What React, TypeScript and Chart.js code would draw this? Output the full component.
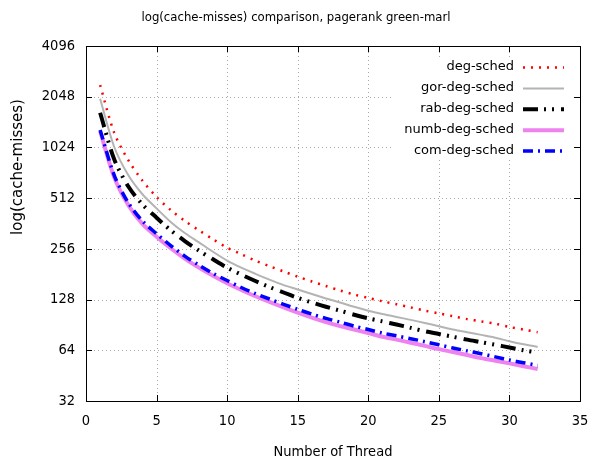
import { useEffect, useRef } from "react";
import { Chart, registerables } from "chart.js";
Chart.register(...registerables);

const threads = [1, 2, 3, 4, 5, 6, 7, 8, 9, 10, 11, 12, 13, 14, 15, 16, 17, 18, 19, 20, 21, 22, 23, 24, 25, 26, 27, 28, 29, 30, 31, 32];
const degSched = [2400, 1250, 860, 650, 520, 435, 375, 330, 292, 260, 238, 218, 202, 188, 175, 164, 154, 145, 137, 131, 125, 120, 115, 110, 106, 102, 98, 95, 92, 88, 85, 82];
const gorDegSched = [1990, 1030, 700, 540, 445, 370, 318, 280, 246, 218, 198, 182, 168, 156, 147, 138, 130, 123, 116, 110, 105, 101, 97, 93, 89, 85, 82, 79, 76, 72.5, 69.5, 67];
const rabDegSched = [1645, 870, 600, 470, 392, 330, 285, 250, 222, 198, 180, 165, 152, 141, 131, 123, 116, 110, 104, 99, 95, 91, 87, 83, 80, 77, 74, 71.5, 69, 66.5, 64, 62];
const numbDegSched = [1280, 680, 465, 360, 302, 258, 224, 198, 177, 160, 146, 134, 124, 115, 107, 100, 94, 89, 85, 81, 77, 74, 71, 68, 65, 62.5, 60, 57.5, 55.5, 53.5, 51.5, 49.5];
const comDegSched = [1300, 700, 480, 375, 315, 268, 232, 205, 183, 166, 151, 139, 129, 120, 112, 105, 99, 94, 89, 85, 81, 78, 75, 72, 69, 66, 63.5, 61, 58.5, 56, 54, 52];

const seriesNames = ["deg-sched", "gor-deg-sched", "rab-deg-sched", "numb-deg-sched", "com-deg-sched"];
const yTicks = [32, 64, 128, 256, 512, 1024, 2048, 4096];
const xTicks = [0, 5, 10, 15, 20, 25, 30, 35];
const titleText = "log(cache-misses) comparison, pagerank green-marl";
const xTitle = "Number of Thread";
const yTitle = "log(cache-misses)";

const COND = "'DejaVu Sans Condensed', 'Liberation Sans Narrow', 'DejaVu Sans', sans-serif";
const REG = "'DejaVu Sans', sans-serif";

export default function App() {
  const ref = useRef<HTMLCanvasElement>(null);
  useEffect(() => {
    document.body.style.margin = "0";
    const values = [degSched, gorDegSched, rabDegSched, numbDegSched, comDegSched];
    const styles = [
      { color: "#ff0000", width: 2.5, dash: [2, 6] },
      { color: "#b4b4b4", width: 2, dash: [] as number[] },
      { color: "#000000", width: 4, dash: [15, 6, 2, 6, 2, 7] },
      { color: "#ee82ee", width: 4, dash: [] as number[] },
      { color: "#0000ff", width: 3.5, dash: [10, 5, 2, 5] },
    ];
    const frame = {
      id: "frame",
      beforeDatasetsDraw(chart: any) {
        const { ctx, chartArea: a, scales } = chart;
        ctx.save();
        ctx.strokeStyle = "#a8a8a8";
        ctx.lineWidth = 1;
        ctx.setLineDash([1, 3]);
        for (const v of xTicks) {
          if (v === 0 || v === 35) continue;
          const px = Math.round(scales.x.getPixelForValue(v)) + 0.5;
          ctx.beginPath();
          ctx.moveTo(px, a.bottom);
          ctx.lineTo(px, a.top);
          ctx.stroke();
        }
        for (const v of yTicks) {
          if (v === 32 || v === 4096) continue;
          const py = Math.round(scales.y.getPixelForValue(v)) + 0.5;
          ctx.beginPath();
          ctx.moveTo(a.left, py);
          ctx.lineTo(a.right, py);
          ctx.stroke();
        }
        ctx.setLineDash([]);
        ctx.strokeStyle = "#000";
        const t = 6;
        for (const v of xTicks) {
          const px = Math.round(scales.x.getPixelForValue(v)) + 0.5;
          ctx.beginPath();
          ctx.moveTo(px, a.bottom);
          ctx.lineTo(px, a.bottom - t);
          ctx.moveTo(px, a.top);
          ctx.lineTo(px, a.top + t);
          ctx.stroke();
        }
        for (const v of yTicks) {
          const py = Math.round(scales.y.getPixelForValue(v)) + 0.5;
          ctx.beginPath();
          ctx.moveTo(a.left, py);
          ctx.lineTo(a.left + t, py);
          ctx.moveTo(a.right, py);
          ctx.lineTo(a.right - t, py);
          ctx.stroke();
        }
        ctx.strokeRect(Math.round(a.left) + 0.5, Math.round(a.top) + 0.5, Math.round(a.right - a.left), Math.round(a.bottom - a.top));
        ctx.restore();
      },
      afterDatasetsDraw(chart: any) {
        const { ctx, chartArea: a } = chart;
        ctx.save();
        ctx.fillStyle = "#fff";
        ctx.fillRect(393, 57, 181, 100);
        ctx.font = "13px " + REG;
        ctx.textAlign = "right";
        ctx.textBaseline = "middle";
        seriesNames.forEach((n, i) => {
          const y = 67 + i * 20.9;
          ctx.fillStyle = "#000";
          ctx.fillText(n, 514, y);
          ctx.strokeStyle = styles[i].color;
          ctx.lineWidth = styles[i].width;
          ctx.setLineDash(styles[i].dash);
          ctx.beginPath();
          ctx.moveTo(523, y + 0.5);
          ctx.lineTo(564, y + 0.5);
          ctx.stroke();
        });
        ctx.setLineDash([]);
        ctx.fillStyle = "#000";
        ctx.textAlign = "center";
        ctx.font = "13px " + COND;
        ctx.fillText(titleText, 296, 18);
        ctx.font = "14.5px " + COND;
        ctx.fillText(xTitle, (a.left + a.right) / 2, 452);
        ctx.translate(18, 167);
        ctx.rotate(-Math.PI / 2);
        ctx.font = "15px " + REG;
        ctx.fillText(yTitle, 0, 0);
        ctx.restore();
      },
    };
    const chart = new Chart(ref.current as HTMLCanvasElement, {
      type: "line",
      data: {
        datasets: values.map((vals, i) => ({
          label: seriesNames[i],
          data: threads.map((t, j) => ({ x: t, y: vals[j] })),
          borderColor: styles[i].color,
          borderWidth: styles[i].width,
          borderDash: styles[i].dash,
          pointRadius: 0,
          fill: false,
          tension: 0.3,
          order: 5 - i,
        })),
      },
      options: {
        responsive: false,
        animation: false,
        layout: { padding: { left: 0, right: 12, top: 46, bottom: 0 } },
        plugins: { legend: { display: false }, title: { display: false }, tooltip: { enabled: false } },
        scales: {
          x: {
            type: "linear",
            min: 0,
            max: 35,
            afterBuildTicks: (s: any) => { s.ticks = xTicks.map((v) => ({ value: v })); },
            afterFit: (s: any) => { s.height = 65; s.paddingLeft = 0; s.paddingRight = 0; },
            grid: { display: false, drawTicks: false },
            border: { display: false },
            ticks: { color: "#000", padding: 12, autoSkip: false, maxRotation: 0, font: { family: COND, size: 14.5 }, callback: (v: any) => String(v) },
          },
          y: {
            type: "logarithmic",
            min: 32,
            max: 4096,
            afterBuildTicks: (s: any) => { s.ticks = yTicks.map((v) => ({ value: v })); },
            afterFit: (s: any) => { s.width = 86; s.paddingTop = 0; s.paddingBottom = 0; },
            grid: { display: false, drawTicks: false },
            border: { display: false },
            ticks: { color: "#000", padding: 11, autoSkip: false, font: { family: COND, size: 14.5 }, callback: (v: any) => String(v) },
          },
        },
      },
      plugins: [frame],
    } as any);
    return () => chart.destroy();
  }, []);
  return <canvas ref={ref} width={592} height={466} style={{ display: "block", width: 592, height: 466 }} />;
}
